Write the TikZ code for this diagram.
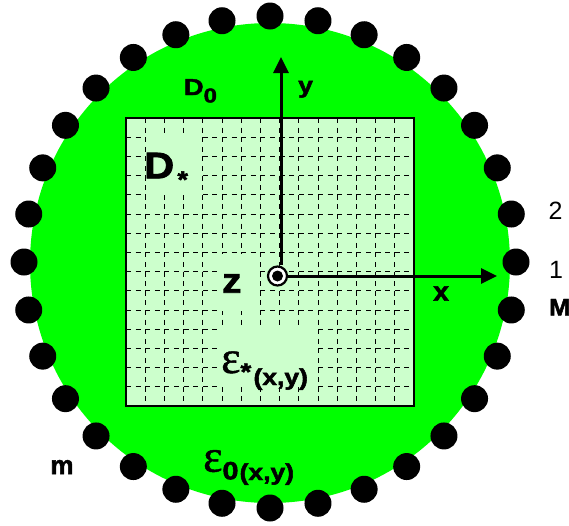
\documentclass[tikz,border=0pt]{standalone}
\usepackage{fontspec}
\setmainfont{Liberation Sans}[BoldFeatures={FakeBold=2}]
\newfontfamily\epsfont{Liberation Serif}[FakeBold=1]
\usetikzlibrary{arrows.meta}
\definecolor{diskgreen}{HTML}{00FF00}
\definecolor{boxgreen}{HTML}{CCFFCC}

\begin{document}
\begin{tikzpicture}[x=1pt, y=-1pt,
    grid line/.style={black, line width=1pt, dash pattern=on 5pt off 4.6pt},
    axis/.style={line width=3pt, -{Triangle[length=16pt, width=15pt]}},
    lbl/.style={inner sep=0pt, anchor=base west},
    num/.style={inner sep=0pt},
    ring/.style={circle, draw, line width=2.2pt, fill=white, minimum size=19pt, inner sep=0pt}]

    \useasboundingbox (0,0) rectangle (569,525);

    % outer domain D_0 and the ring of sources
    \fill[diskgreen] (270,263) circle (240);
    \foreach \k in {0,...,31}
        \fill (270,262) ++(\k*11.25:246) circle (13.5);

    % inner square D_* with its mesh
    \fill[boxgreen] (126,118) rectangle (414,406);
    \foreach \i in {1,...,14} {
        \draw[grid line] (126+\i*19.2,118) -- (126+\i*19.2,406);
        \draw[grid line] (126,118+\i*19.2) -- (414,118+\i*19.2);
    }
    \fill[boxgreen] (145.6,134) rectangle (202.2,194.5);
    \fill[boxgreen] (222.2,254) rectangle (259.6,310.5);
    \fill[boxgreen] (222,327) rectangle (317.2,387.2);
    \draw[line width=2.2pt] (126,118) rectangle (414,406);

    % axes
    \node[ring] (o) at (277.5,276) {};
    \fill (o.center) circle (5.5);
    \coordinate (xtip) at (497,276);
    \coordinate (ytip) at (281,57);
    \draw[axis] (o.east) -- (xtip);
    \draw[axis] (ytip |- o.north) -- (ytip);

    % labels
    \node[lbl] (dzero) at (183.5,95) {\scalebox{1.2}[1]{\fontsize{23}{23}\selectfont\bfseries D\raisebox{-7.4pt}{\fontsize{20}{20}\selectfont 0}}};
    \node[lbl] (dstar) at (144,178.3) {\scalebox{1.12}[1]{\fontsize{37}{37}\selectfont\bfseries D\hspace{3pt}\raisebox{-9.5pt}{\fontsize{24}{24}\selectfont *}}};
    \node[lbl] (ylabel) at (298,93) {\scalebox{1.15}[1]{\fontsize{23}{23}\selectfont\bfseries y}};
    \node[lbl] (xlabel) at (433,300.7) {\scalebox{1.05}[1]{\fontsize{27}{27}\selectfont\bfseries x}};
    \node[lbl] (zlabel) at (222,292.7) {\scalebox{1.1}[1]{\fontsize{35}{35}\selectfont\bfseries z}};
    \node[lbl] (epsstar) at (221,373) {{\epsfont\fontsize{46}{46}\selectfont ε}\scalebox{1.15}[1]{\fontsize{24}{24}\selectfont\bfseries\raisebox{-7pt}{*}\hspace{2pt}\raisebox{-12pt}{\fontsize{23}{23}\selectfont (x,y)}}};
    \node[lbl] (epszero) at (203,471.7) {{\epsfont\fontsize{46}{46}\selectfont ε}\scalebox{1.15}[1]{\fontsize{25}{25}\selectfont\bfseries\raisebox{-7.6pt}{0}\hspace{1pt}\raisebox{-8.3pt}{\fontsize{23}{23}\selectfont (x,y)}}};
    \node[num] (two) at (555.5,211) {\fontsize{25}{25}\selectfont 2};
    \node[num] (one) at (556,270) {\fontsize{25}{25}\selectfont 1};
    \node[lbl] (bigm) at (549,315.5) {\scalebox{1.05}[1]{\fontsize{24}{24}\selectfont\bfseries M}};
    \node[num] (smallm) at (62,467) {\fontsize{26}{26}\selectfont\bfseries m};
\end{tikzpicture}
\end{document}
